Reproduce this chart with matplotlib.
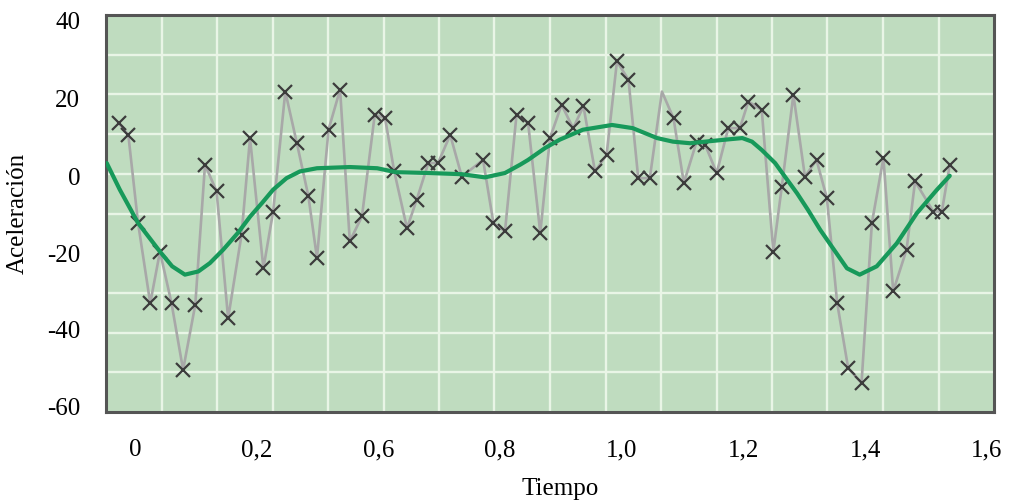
import numpy as np
import matplotlib
matplotlib.use("Agg")
import matplotlib.pyplot as plt

# raw measurements (Tiempo, Aceleración)
tiempo = [-0.027, -0.011, 0.005, 0.025, 0.041, 0.060, 0.079, 0.099, 0.115, 0.134,
          0.153, 0.175, 0.189, 0.211, 0.227, 0.247, 0.266, 0.285, 0.299, 0.318,
          0.337, 0.353, 0.373, 0.394, 0.411, 0.426, 0.447, 0.463, 0.482, 0.498,
          0.518, 0.537, 0.572, 0.589, 0.608, 0.627, 0.646, 0.666, 0.682, 0.701,
          0.720, 0.737, 0.756, 0.775, 0.792, 0.811, 0.827, 0.846, 0.866, 0.885,
          0.902, 0.923, 0.937, 0.956, 0.975, 0.994, 1.008, 1.030, 1.049, 1.063,
          1.082, 1.101, 1.120, 1.137, 1.154, 1.172, 1.194, 1.211, 1.230, 1.246,
          1.268, 1.282, 1.312, 1.326, 1.339]
aceleracion = [12.8, 9.8, -12.4, -32.6, -19.6, -32.6, -49.4, -33.0, 2.3, -4.4,
               -36.4, -15.4, 9.0, -23.8, -9.5, 20.7, 7.7, -5.7, -21.2, 11.1,
               21.2, -17.0, -10.7, 14.9, 14.0, 0.6, -13.7, -6.5, 2.7, 2.7,
               9.8, -0.7, 3.5, -12.4, -14.5, 14.9, 12.8, -14.9, 9.0, 17.4,
               11.5, 17.0, 0.6, 4.8, 28.3, 23.7, -1.1, -1.1, 20.7, 14.0,
               -2.3, 8.1, 7.3, 0.2, 11.5, 11.5, 18.2, 16.1, -19.6, -3.2,
               19.9, -0.7, 3.5, -6.1, -32.6, -48.9, -52.7, -12.4, 4.0, -29.6,
               -19.1, -1.9, -9.5, -9.5, 2.3]
sin_marca = [48]  # vertex drawn without a cross

# smoothed (filtered) curve
tiempo_suave = [-0.0465, -0.025, 0.005, 0.041, 0.061, 0.082, 0.104, 0.123, 0.145, 0.169,
                0.189, 0.209, 0.227, 0.249, 0.271, 0.299, 0.353, 0.398, 0.429, 0.482,
                0.537, 0.575, 0.608, 0.633, 0.646, 0.674, 0.698, 0.736, 0.784, 0.818,
                0.858, 0.884, 0.912, 0.937, 0.970, 0.998, 1.014, 1.030, 1.052, 1.068,
                1.088, 1.106, 1.126, 1.145, 1.170, 1.191, 1.219, 1.252, 1.285, 1.318,
                1.339]
acel_suave = [2.7, -4.0, -12.4, -19.6, -23.3, -25.4, -24.6, -22.5, -19.1, -14.9,
              -10.8, -7.3, -4.0, -1.1, 0.6, 1.4, 1.7, 1.4, 0.4, 0.2,
              -0.1, -0.9, 0.2, 2.3, 3.5, 6.5, 8.6, 11.1, 12.3, 11.5,
              9.0, 8.1, 7.7, 8.1, 8.6, 9.0, 8.1, 6.0, 2.7, -0.7,
              -4.9, -9.1, -14.1, -18.3, -23.8, -25.4, -23.3, -17.5, -9.9, -4.0,
              -0.5]

xtick_pos = [0, 0.2, 0.4, 0.6, 0.8, 1.0, 1.2, 1.4]
xtick_labels = ["0", "0,2", "0,6", "0,8", "1,0", "1,2", "1,4", "1,6"]
ytick_labels = ["40", "20", "0", "-20", "-40", "-60"]

plt.rcParams["font.family"] = ["Liberation Serif", "DejaVu Serif"]

fig = plt.figure(figsize=(10.10, 5.04), dpi=100)
ax = fig.add_axes([106 / 1010, 1 - 412 / 504, (994 - 106) / 1010, (412 - 15) / 504])

xlim = (-0.0477, 1.4117)
ylim = (-60, 40)
ax.set_xlim(*xlim)
ax.set_ylim(*ylim)
ax.set_facecolor("#bfdcbf")

# grid: 16 columns x 10 rows
ax.set_xticks(np.linspace(xlim[0], xlim[1], 17)[1:-1], minor=True)
ax.set_yticks(np.arange(-50, 40, 10), minor=True)
ax.grid(which="minor", color="#e9f5e6", linewidth=1.7)
ax.set_axisbelow(True)

ax.set_xticks(xtick_pos)
ax.set_xticklabels(xtick_labels)
# y labels sit slightly inside the frame in the original
ax.set_yticks([38.5, 19.0, -0.6, -20.0, -39.3, -58.5])
ax.set_yticklabels(ytick_labels)
ax.tick_params(which="both", length=0)
ax.tick_params(axis="x", pad=19.5, labelsize=18)
ax.tick_params(axis="y", pad=18.5, labelsize=18)

idx = [i for i in range(len(tiempo)) if i not in sin_marca]
ax.plot(tiempo, aceleracion, color="#a8a8a8", linewidth=1.9, zorder=2,
        marker="x", markevery=idx, markersize=10, markeredgewidth=1.6,
        markeredgecolor="#3c3c3c")
ax.plot(tiempo_suave, acel_suave, color="#17995a", linewidth=3, zorder=3,
        solid_joinstyle="round", solid_capstyle="round")

for s in ax.spines.values():
    s.set_color("#555555")
    s.set_linewidth(2.2)

ax.set_xlabel("Tiempo", fontsize=18, labelpad=13)
ax.xaxis.set_label_coords(0.511, -0.165)
ax.set_ylabel("Aceleración", fontsize=18, labelpad=13)

fig.savefig("out.png", dpi=100)
